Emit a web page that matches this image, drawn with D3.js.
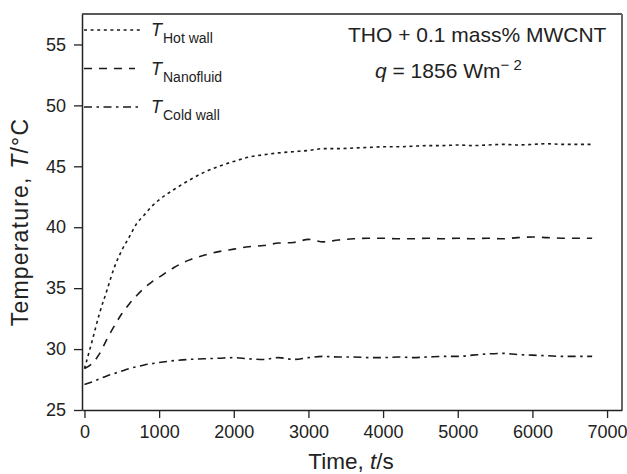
<!DOCTYPE html>
<html>
<head>
<meta charset="utf-8">
<script src="https://cdn.jsdelivr.net/npm/d3@7"></script>
<style>
  body { margin: 0; background: #fff; }
  svg { display: block; font-family: "Liberation Sans", Arial, Helvetica, sans-serif; }
</style>
</head>
<body>
<script>
var times = [0, 100, 200, 300, 400, 500, 600, 700, 800, 900, 1000, 1200, 1400, 1600, 1800, 2000,
    2200, 2400, 2600, 2800, 3000, 3200, 3400, 3600, 3800, 4000, 4200, 4400, 4600, 4800, 5000,
    5200, 5400, 5600, 5800, 6000, 6200, 6400, 6600, 6800];

var hotWall = [28.4, 30.6, 32.9, 34.8, 36.7, 38.1, 39.2, 40.3, 41.0, 41.7, 42.25, 43.1, 43.85, 44.5, 45.0, 45.4,
    45.75, 45.95, 46.1, 46.2, 46.3, 46.45, 46.45, 46.5, 46.55, 46.6, 46.6, 46.65, 46.7, 46.7, 46.75,
    46.7, 46.75, 46.8, 46.75, 46.8, 46.85, 46.8, 46.8, 46.8];

var nanofluid = [28.4, 28.8, 29.6, 30.8, 31.9, 32.9, 33.7, 34.4, 35.0, 35.5, 35.9, 36.7, 37.3, 37.7, 38.0, 38.2,
    38.4, 38.5, 38.7, 38.75, 39.0, 38.8, 38.95, 39.05, 39.1, 39.1, 39.05, 39.05, 39.1, 39.05, 39.1,
    39.05, 39.1, 39.05, 39.15, 39.2, 39.15, 39.1, 39.1, 39.1];

var coldWall = [27.1, 27.3, 27.55, 27.8, 28.0, 28.2, 28.4, 28.55, 28.7, 28.8, 28.9, 29.05, 29.15, 29.2, 29.25, 29.3,
    29.2, 29.15, 29.3, 29.15, 29.3, 29.4, 29.35, 29.35, 29.3, 29.3, 29.35, 29.3, 29.35, 29.4, 29.4,
    29.5, 29.6, 29.65, 29.55, 29.5, 29.45, 29.4, 29.4, 29.4];

var xTicks = [0, 1000, 2000, 3000, 4000, 5000, 6000, 7000];
var yTicks = [25, 30, 35, 40, 45, 50, 55];

var seriesNames = ["Hot wall", "Nanofluid", "Cold wall"];
var seriesValues = [hotWall, nanofluid, coldWall];
var dashes = ["3,3.6", "8,7", "8,4.5,2.5,4.5"];

var width = 627, height = 474;
var margin = {top: 14, right: 5, bottom: 64, left: 82};

var svg = d3.select("body").append("svg")
    .attr("width", width)
    .attr("height", height);

var x = d3.scaleLinear()
    .domain([-33, 7200])
    .range([margin.left, width - margin.right]);

var y = d3.scaleLinear()
    .domain([25, 57.5])
    .range([height - margin.bottom, margin.top]);

// frame: top and right sides
svg.append("line")
    .attr("x1", margin.left).attr("x2", width - margin.right)
    .attr("y1", margin.top).attr("y2", margin.top)
    .attr("stroke", "#222").attr("stroke-width", 1.5);
svg.append("line")
    .attr("x1", width - margin.right).attr("x2", width - margin.right)
    .attr("y1", margin.top).attr("y2", height - margin.bottom)
    .attr("stroke", "#666").attr("stroke-width", 2);

// axes
var xAxis = svg.append("g")
    .attr("transform", "translate(0," + (height - margin.bottom) + ")")
    .call(d3.axisBottom(x).tickValues(xTicks).tickFormat(d3.format("d"))
        .tickSize(8).tickPadding(7).tickSizeOuter(0));

var yAxis = svg.append("g")
    .attr("transform", "translate(" + margin.left + ",0)")
    .call(d3.axisLeft(y).tickValues(yTicks).tickFormat(d3.format("d"))
        .tickSize(8).tickPadding(8).tickSizeOuter(0));

[xAxis, yAxis].forEach(function(g) {
    g.select(".domain").attr("stroke", "#222").attr("stroke-width", 1.5);
    g.selectAll(".tick line").attr("stroke", "#222").attr("stroke-width", 1.3);
    g.selectAll(".tick text")
        .attr("fill", "#222")
        .style("font-size", "18px")
        .style("font-family", "Liberation Sans, Arial, sans-serif");
});

// curves
var line = d3.line()
    .x(function(d) { return x(d[0]); })
    .y(function(d) { return y(d[1]); })
    .curve(d3.curveMonotoneX);

seriesValues.forEach(function(vals, i) {
    var pts = times.map(function(t, j) { return [t, vals[j]]; });
    svg.append("path")
        .datum(pts)
        .attr("d", line)
        .attr("fill", "none")
        .attr("stroke", "#1a1a1a")
        .attr("stroke-width", 1.6)
        .attr("stroke-dasharray", dashes[i]);
});

// legend
var legendY = [30, 68.5, 107];
var legendEnd = [140, 135, 142];
seriesNames.forEach(function(name, i) {
    svg.append("line")
        .attr("x1", 84).attr("x2", legendEnd[i])
        .attr("y1", legendY[i]).attr("y2", legendY[i])
        .attr("stroke", "#1a1a1a")
        .attr("stroke-width", 1.6)
        .attr("stroke-dasharray", dashes[i]);
    var t = svg.append("text")
        .attr("x", 151)
        .attr("y", legendY[i] + 6)
        .attr("fill", "#222")
        .style("font-size", "18px");
    t.append("tspan").style("font-style", "italic").text("T");
    t.append("tspan")
        .attr("dy", 7)
        .attr("dx", 1)
        .style("font-size", "14px")
        .text(name);
});

// annotation
svg.append("text")
    .attr("x", 348).attr("y", 42)
    .attr("fill", "#222")
    .style("font-size", "21px")
    .text("THO + 0.1 mass% MWCNT");

var q = svg.append("text")
    .attr("x", 375).attr("y", 78)
    .attr("fill", "#222")
    .style("font-size", "21px");
q.append("tspan").style("font-style", "italic").text("q");
q.append("tspan").text(" = 1856 Wm");
q.append("tspan").attr("dy", -8).style("font-size", "15px").text("\u2212 2");

// axis titles
var xt = svg.append("text")
    .attr("x", 351).attr("y", 469)
    .attr("text-anchor", "middle")
    .attr("fill", "#222")
    .style("font-size", "22.5px");
xt.append("tspan").text("Time, ");
xt.append("tspan").style("font-style", "italic").text("t");
xt.append("tspan").text("/s");

var yt = svg.append("text")
    .attr("transform", "translate(28,222) rotate(-90)")
    .attr("text-anchor", "middle")
    .attr("fill", "#222")
    .style("font-size", "23px")
    .style("letter-spacing", "1.2px");
yt.append("tspan").text("Temperature, ");
yt.append("tspan").style("font-style", "italic").text("T");
yt.append("tspan").text("/\u00b0C");
</script>
</body>
</html>
